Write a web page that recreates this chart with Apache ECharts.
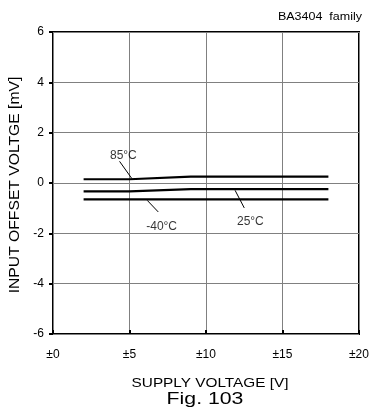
<!DOCTYPE html>
<html><head><meta charset="utf-8">
<script src="https://cdn.jsdelivr.net/npm/echarts@6/dist/echarts.min.js"></script>
<style>html,body{margin:0;padding:0;background:#fff}#c{width:373px;height:412px}</style>
</head><body><div id="c"></div>
<script>
const xTicks = ['±0','±5','±10','±15','±20'];
const yTicks = [-6,-4,-2,0,2,4,6];
const supply = [2, 5, 9, 18];
const t85 = [0.15, 0.15, 0.25, 0.25];
const t25 = [-0.33, -0.33, -0.24, -0.24];
const tm40 = [-0.65, -0.65, -0.65, -0.65];
const labels = [
  {text:'85°C', label:[4.6,1.1], leader:[[4.35,0.86],[5.15,0.18]]},
  {text:'-40°C', label:[7.1,-1.72], leader:[[6.16,-0.69],[6.88,-1.15]]},
  {text:'25°C', label:[12.9,-1.55], leader:[[11.9,-0.29],[12.5,-0.99]]}
];
const font = 'Liberation Sans, Arial, sans-serif';
const chart = echarts.init(document.getElementById('c'));
function mk(vals){return supply.map((x,i)=>[x,vals[i]]);}
const lineStyle = {color:'#000', width:2.2};
function txt(text, x, y, size, sx, rot, align){
  return {type:'text', x:x, y:y, rotation:rot||0, scaleX:sx, silent:true,
    style:{text:text, fontFamily:font, fontSize:size, fill:'#000', align:align||'center', verticalAlign:'middle'}};
}
chart.setOption({
  animation:false,
  grid:{left:53, top:32, width:306, height:302, show:true, borderColor:'#000', borderWidth:2},
  graphic:[
    txt('BA3404  family', 362, 17, 10, 1.25, 0, 'right'),
    txt('SUPPLY VOLTAGE [V]', 210, 383, 13, 1.18),
    txt('Fig. 103', 205, 399, 17, 1.25),
    txt('INPUT OFFSET VOLTGE [mV]', 15.5, 185, 14, 1.12, Math.PI/2)
  ],
  xAxis:{type:'value', min:0, max:20, interval:5,
    axisLine:{show:false, onZero:false}, axisTick:{show:true, inside:true, length:4, lineStyle:{color:'#000', width:2}},
    axisLabel:{fontFamily:font, fontSize:12, color:'#000', margin:15, formatter:(v)=>xTicks[Math.round(v/5)]},
    splitLine:{show:true, lineStyle:{color:'#808080', width:1}}},
  yAxis:{type:'value', min:-6, max:6, interval:2,
    axisLine:{show:false, onZero:false}, axisTick:{show:true, inside:false, length:4, lineStyle:{color:'#000', width:2}},
    axisLabel:{fontFamily:font, fontSize:12, color:'#000', margin:9, formatter:(v)=>String(yTicks[Math.round((v+6)/2)])},
    splitLine:{show:true, lineStyle:{color:'#808080', width:1}}},
  series:[
    {type:'line', data:mk(t85), symbol:'none', lineStyle, silent:true},
    {type:'line', data:mk(t25), symbol:'none', lineStyle, silent:true},
    {type:'line', data:mk(tm40), symbol:'none', lineStyle, silent:true},
    {type:'scatter', data:labels.map(l=>({value:l.label, name:l.text})), symbolSize:0, silent:true,
      label:{show:true, position:'inside', formatter:(p)=>p.name, fontFamily:font, fontSize:12, color:'#000'},
      markLine:{symbol:'none', silent:true, label:{show:false}, lineStyle:{color:'#000', width:1, type:'solid'},
        data:labels.map(l=>[{coord:l.leader[0]},{coord:l.leader[1]}])}}
  ]
});
</script></body></html>
